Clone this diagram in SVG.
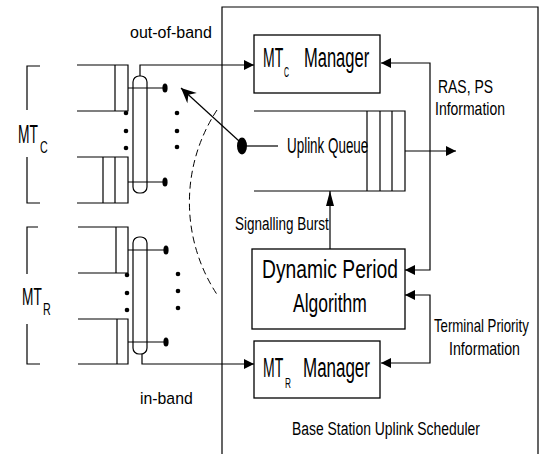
<svg xmlns="http://www.w3.org/2000/svg" width="546" height="454" viewBox="0 0 546 454">
<style>
.ln{fill:none;stroke:#000;stroke-width:1.2}
.box{fill:#fff;stroke:#000;stroke-width:1.3}
.t{font-family:"Liberation Sans",Arial,sans-serif;fill:#000}
.dot{fill:#000}
.dash{fill:none;stroke:#000;stroke-width:1;stroke-dasharray:7,4}
</style>
<defs>
<marker id="ah" markerUnits="userSpaceOnUse" markerWidth="12" markerHeight="12" refX="10" refY="5" orient="auto-start-reverse" viewBox="0 0 12 10"><path d="M0,0 L10,5 L0,10 Z" fill="#000"/></marker>
<marker id="ahl" markerUnits="userSpaceOnUse" markerWidth="16" markerHeight="10" refX="15" refY="4" orient="auto" viewBox="0 0 16 8"><path d="M0,0 L15,4 L0,8 Z" fill="#000"/></marker>
<marker id="st" markerUnits="userSpaceOnUse" markerWidth="18" markerHeight="16" refX="16" refY="8" orient="auto" viewBox="0 0 18 16"><path d="M16,8 L1,1 L6,8 L1,15 Z" fill="#000"/></marker>
</defs>

<g id="scheduler-frame">
<path class="ln" d="M222,454 L222,7 L538,7 L538,454"/>
<text class="t" font-size="19" transform="translate(292,435) scale(0.733,1)">Base Station Uplink Scheduler</text>
</g>

<g id="mtc-group">
<path class="ln" d="M40,66 L27,66 L27,110 M27,157 L27,203 L40,203"/>
<text class="t" font-size="26" transform="translate(18,143) scale(0.53,1)">MT</text>
<text class="t" font-size="17" transform="translate(40,153) scale(0.63,1)">C</text>
</g>

<g id="mtc-queue1">
<path class="ln" d="M77,65 L128,65 L128,111 L77,111 M115,65 L115,111"/>
</g>
<g id="mtc-queue2">
<path class="ln" d="M77,157 L128,157 L128,203 L77,203 M103,157 L103,203 M115,157 L115,203"/>
</g>
<g id="mtc-bus">
<rect class="ln" x="133" y="76" width="14" height="117" rx="6"/>
</g>
<g id="mtc-dots">
<circle class="dot" cx="126" cy="113" r="2.3"/>
<circle class="dot" cx="126" cy="131" r="2.3"/>
<circle class="dot" cx="126" cy="148" r="2.3"/>
<circle class="dot" cx="177" cy="113" r="2.3"/>
<circle class="dot" cx="177" cy="131" r="2.3"/>
<circle class="dot" cx="177" cy="147" r="2.3"/>
<ellipse class="dot" cx="165" cy="88" rx="2.6" ry="4.5"/>
<ellipse class="dot" cx="165" cy="182" rx="2.6" ry="4.5"/>
</g>

<g id="mtr-group">
<path class="ln" d="M38,227 L27,227 L27,274 M27,324 L27,364 L40,364"/>
<text class="t" font-size="24" transform="translate(22,305) scale(0.57,1)">MT</text>
<text class="t" font-size="17" transform="translate(43,315) scale(0.63,1)">R</text>
</g>
<g id="mtr-queue1">
<path class="ln" d="M78,227 L128,227 L128,273 L78,273 M116,227 L116,273"/>
</g>
<g id="mtr-queue2">
<path class="ln" d="M78,319 L128,319 L128,364 L78,364 M117,319 L117,364"/>
</g>
<g id="mtr-bus">
<rect class="ln" x="133" y="237" width="14" height="117" rx="6"/>
</g>
<g id="mtr-dots">
<circle class="dot" cx="127" cy="275" r="2.3"/>
<circle class="dot" cx="127" cy="293" r="2.3"/>
<circle class="dot" cx="127" cy="310" r="2.3"/>
<circle class="dot" cx="178" cy="274" r="2.3"/>
<circle class="dot" cx="178" cy="291" r="2.3"/>
<circle class="dot" cx="178" cy="308" r="2.3"/>
<ellipse class="dot" cx="166" cy="250" rx="2.6" ry="4.5"/>
<ellipse class="dot" cx="166" cy="342" rx="2.6" ry="4.5"/>
</g>

<g id="mtc-manager">
<rect class="box" x="254" y="35" width="126" height="58"/>
<text class="t" font-size="28" transform="translate(263,67) scale(0.5,1)">MT</text>
<text class="t" font-size="15" transform="translate(284,77) scale(0.46,1)">C</text>
<text class="t" font-size="28" transform="translate(304,67) scale(0.59,1)">Manager</text>
</g>

<g id="uplink-queue">
<path class="ln" d="M254,111 L405,111 L405,191 L254,191 M367,111 L367,191 M380,111 L380,191 M392,111 L392,191"/>
<ellipse class="dot" cx="242" cy="146" rx="5" ry="8.5"/>
<text class="t" font-size="22" transform="translate(287,153) scale(0.61,1)">Uplink Queue</text>
</g>

<g id="dynamic-period">
<rect class="box" x="252" y="249" width="153" height="80"/>
<text class="t" font-size="25" transform="translate(262,278) scale(0.771,1)">Dynamic Period</text>
<text class="t" font-size="25" transform="translate(293,312) scale(0.70,1)">Algorithm</text>
</g>

<g id="mtr-manager">
<rect class="box" x="254" y="341" width="126" height="57"/>
<text class="t" font-size="28" transform="translate(263,377) scale(0.5,1)">MT</text>
<text class="t" font-size="15" transform="translate(285,388) scale(0.55,1)">R</text>
<text class="t" font-size="28" transform="translate(303,377) scale(0.606,1)">Manager</text>
</g>

<g id="connectors">
<path class="ln" d="M128,88 L163,88 M128,182 L163,182 M128,250 L164,250 M128,342 L164,342"/>
<path class="ln" d="M140,76 L140,65 L254,65" marker-end="url(#ah)"/>
<path class="ln" d="M142,354 L142,364 L254,364" marker-end="url(#ah)"/>
<path class="ln" d="M381,63 L430,63 L430,270 L405,270" marker-start="url(#ah)" marker-end="url(#ah)"/>
<path class="ln" d="M405,295 L430,295 L430,363 L381,363" marker-start="url(#ah)" marker-end="url(#ah)"/>
<path class="ln" d="M405,151 L456,151" marker-end="url(#ah)"/>
<path class="ln" d="M330,249 L330,191" marker-end="url(#ahl)"/>
<path class="ln" d="M239,141 L181,88" marker-end="url(#st)"/>
<path class="ln" d="M247,146 L278,146"/>
<path class="dash" d="M217,110 A168,168 0 0,0 218,296"/>
</g>

<g id="labels">
<text class="t" font-size="16" x="130" y="38">out-of-band</text>
<text class="t" font-size="17" transform="translate(140,404) scale(0.93,1)">in-band</text>
<text class="t" font-size="18" transform="translate(438,93) scale(0.775,1)">RAS, PS</text>
<text class="t" font-size="18" transform="translate(435,115) scale(0.777,1)">Information</text>
<text class="t" font-size="19" transform="translate(235,230) scale(0.71,1)">Signalling Burst</text>
<text class="t" font-size="18" transform="translate(434,332) scale(0.735,1)">Terminal Priority</text>
<text class="t" font-size="18" transform="translate(449,355) scale(0.789,1)">Information</text>
</g>
</svg>
